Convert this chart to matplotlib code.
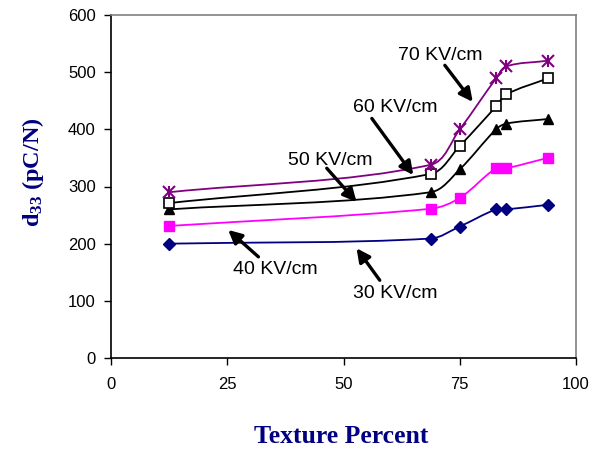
import matplotlib
matplotlib.use("Agg")
import math
import matplotlib.pyplot as plt
from matplotlib.path import Path
from matplotlib.patches import PathPatch

texture = [12.5, 68.75, 75, 82.8, 85, 93.9]
d33_30 = [200, 209, 230, 260, 260, 268]
d33_40 = [231, 261, 280, 332, 332, 350]
d33_50 = [260, 290, 330, 400, 410, 418]
d33_60 = [271, 322, 371, 440, 461, 489]
d33_70 = [290, 338, 400, 489, 510, 520]

x_ticks = [0, 25, 50, 75, 100]
y_ticks = [0, 100, 200, 300, 400, 500, 600]

labels = ["30 KV/cm", "40 KV/cm", "50 KV/cm", "60 KV/cm", "70 KV/cm"]
label_pos = [(61.1, 113), (35.3, 154), (47.1, 346), (61.1, 439), (70.8, 530)]
arrow_tail = [(57.8, 136), (31.7, 177), (46.4, 332), (56.1, 419), (71.8, 512)]
arrow_head = [(52.8, 192), (25.2, 224), (52.8, 273), (65.0, 320), (77.8, 448)]

plt.rcParams['font.family'] = ['Liberation Sans', 'DejaVu Sans']
plt.rcParams['mathtext.fontset'] = 'custom'
plt.rcParams['mathtext.rm'] = 'Liberation Serif:bold'
plt.rcParams['mathtext.bf'] = 'Liberation Serif:bold'
plt.rcParams['mathtext.it'] = 'Liberation Serif:bold'

fig = plt.figure(figsize=(6.03, 4.5), dpi=100)
ax = fig.add_axes([111/603, 1-358/450, (576-111)/603, (358-15)/450])

XMAX, YMAX = 100.0, 600.0
SX, SY = 465.0, 343.0  # approximate pixel extents for isotropic smoothing


def smooth_path(xs, ys, k=0.33):
    pts = [(x / XMAX * SX, y / YMAX * SY) for x, y in zip(xs, ys)]
    n = len(pts)
    tang = []
    for i in range(n):
        a = pts[i - 1] if i > 0 else pts[i]
        b = pts[i + 1] if i < n - 1 else pts[i]
        dx, dy = b[0] - a[0], b[1] - a[1]
        L = math.hypot(dx, dy) or 1.0
        tang.append((dx / L, dy / L))
    verts = [pts[0]]
    codes = [Path.MOVETO]
    for i in range(n - 1):
        p1, p2 = pts[i], pts[i + 1]
        d = math.hypot(p2[0] - p1[0], p2[1] - p1[1]) * k
        c1 = (p1[0] + tang[i][0] * d, p1[1] + tang[i][1] * d)
        c2 = (p2[0] - tang[i + 1][0] * d, p2[1] - tang[i + 1][1] * d)
        verts += [c1, c2, p2]
        codes += [Path.CURVE4] * 3
    verts = [(vx / SX * XMAX, vy / SY * YMAX) for vx, vy in verts]
    return Path(verts, codes)


series = [
    (d33_30, '#000080', dict(marker='D', ms=6, mfc='#000080', mec='#000080')),
    (d33_40, '#FF00FF', dict(marker='s', ms=7, mfc='#FF00FF', mec='#FF00FF')),
    (d33_50, 'black', dict(marker='^', ms=7.5, mfc='black', mec='black')),
    (d33_60, 'black', dict(marker='s', ms=6.5, mfc='white', mec='black', mew=1.2)),
]
for ys, col, mk in series:
    ax.add_patch(PathPatch(smooth_path(texture, ys), fill=False, edgecolor=col,
                           lw=1.3, zorder=2))
    ax.plot(texture, ys, linestyle='none', zorder=3, **mk)

ax.add_patch(PathPatch(smooth_path(texture, d33_70), fill=False, edgecolor='#800080',
                       lw=1.3, zorder=2))
ax.plot(texture, d33_70, linestyle='none', marker='x', ms=8, mew=1.5, mec='#800080', zorder=3)
ax.plot(texture, d33_70, linestyle='none', marker='|', ms=9, mew=1.5, mec='#800080', zorder=3)

for lab, lp, tail, head in zip(labels, label_pos, arrow_tail, arrow_head):
    ax.text(lp[0], lp[1], lab, fontsize=14, ha='center', va='center', color='black', zorder=5)
    ax.annotate('', xy=head, xytext=tail,
                arrowprops=dict(arrowstyle='-|>', lw=2.4, color='black',
                                mutation_scale=20, shrinkA=0, shrinkB=0), zorder=4)

ax.set_xlim(0, 100)
ax.set_ylim(0, 600)
ax.set_xticks(x_ticks)
ax.set_yticks(y_ticks)
ax.tick_params(axis='both', direction='out', length=5, width=1, labelsize=12, colors='black')
ax.tick_params(axis='x', pad=9)
ax.tick_params(axis='y', pad=6)
for s in ['left', 'bottom']:
    ax.spines[s].set_color('black')
    ax.spines[s].set_linewidth(1.2)
for s in ['top', 'right']:
    ax.spines[s].set_color('#808080')
    ax.spines[s].set_linewidth(1.2)

fig.text(341/603, 1-443/450, 'Texture Percent', fontsize=18.5, fontweight='bold',
         family='Liberation Serif', color='#000080', ha='center', va='baseline')
fig.text(33/603, 1-172/450, r'd$_{33}$ (pC/N)', fontsize=17.5, fontweight='bold',
         family='Liberation Serif', color='#000080', ha='center', va='center', rotation=90)

fig.savefig('out.png', dpi=100)
